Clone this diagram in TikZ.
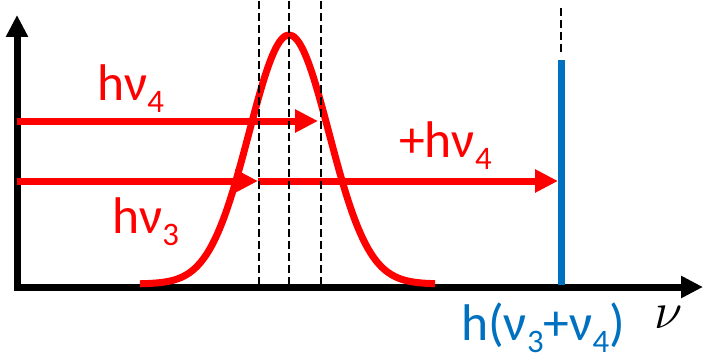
\RequirePackage{fix-cm}
\documentclass[tikz,border=0pt]{standalone}
\usepackage{fontspec}
\setmainfont{Carlito}
\usepackage{tikz}
\usetikzlibrary{arrows.meta}
\definecolor{pumpred}{HTML}{FF0000}
\definecolor{sumblue}{HTML}{0070C0}
\newcommand{\lowsub}[1]{\raisebox{-11pt}{\fontsize{28}{28}\selectfont #1}}

\begin{document}
\begin{tikzpicture}[x=0.3mm,y=0.3mm,
  axis/.style={line width=2.1mm,{Triangle[length=6.6mm,width=6.3mm]}-{Triangle[length=6.6mm,width=6.3mm]}},
  photon/.style={pumpred,line width=2.1mm,-{Triangle[length=6.9mm,width=6.6mm]}},
  guide/.style={black,line width=0.6mm,dash pattern=on 2.4mm off 1.2mm},
  lbl/.style={font=\fontsize{44}{50}\selectfont,inner sep=0pt,anchor=base west}]
\useasboundingbox (0,0) rectangle (705,353);
\coordinate (o) at (17,66);
\coordinate (ytip) at (17,338);
\coordinate (xtip) at (703,66);
\draw[axis] (ytip) -- (o) -- (xtip);
\draw[pumpred,line width=2.1mm,domain=140:435,samples=90,smooth,variable=\t] plot ({\t},{69+249*exp(-0.5*((\t-289)/40)^2)});
\coordinate (a4) at (17,232);
\coordinate (b4) at (318,232);
\coordinate (a3) at (17,172);
\coordinate (b3) at (258,172);
\coordinate (c3) at (558,172);
\draw[photon] (a4) -- (b4);
\draw[photon] (a3) -- (b3);
\draw[photon] (b3) -- (c3);
\coordinate (sumbot) at (561,68);
\coordinate (sumtop) at (561,293);
\draw[sumblue,line width=2.1mm] (sumbot) -- (sumtop);
\foreach \x in {259,289,321}
  \draw[guide] (\x,68) -- (\x,353);
\draw[guide] (561,301) -- (561,348);
\node[lbl,pumpred] (hnu4) at (97,253) {hν\lowsub{4}};
\node[lbl,pumpred] (hnu3) at (112,120) {hν\lowsub{3}};
\node[lbl,pumpred] (plus4) at (399,196) {+hν\lowsub{4}};
\node[lbl,sumblue] (hsum) at (461,13) {h(ν\lowsub{3}+ν\lowsub{4})};
\node[lbl] (nu) at (654,25) {$\nu$};
\end{tikzpicture}
\end{document}
